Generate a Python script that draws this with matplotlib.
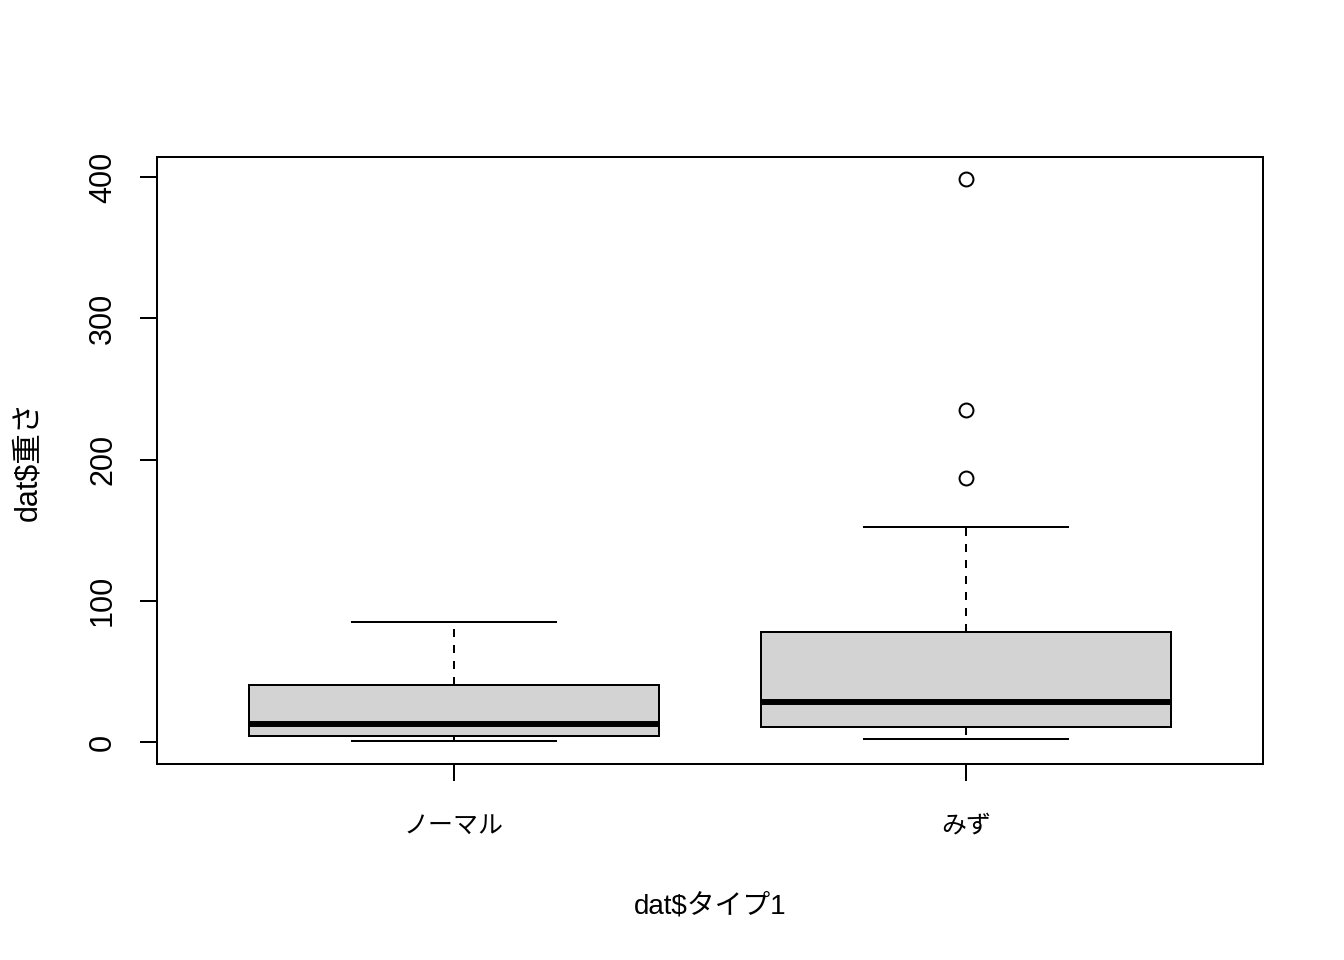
import matplotlib
matplotlib.use("Agg")
import matplotlib.pyplot as plt

plt.rcParams['font.family'] = ['Liberation Sans', 'Noto Sans CJK JP', 'DejaVu Sans']

# box statistics (weights)
types = ['ノーマル', 'みず']
whisker_low = [0.9, 1.9]
q1 = [4.5, 10.8]
medians = [13.0, 28.5]
q3 = [40.4, 77.9]
whisker_high = [85.2, 152.4]
outliers = [[], [187, 235, 398.6]]

y_ticks = [0, 100, 200, 300, 400]

stats = []
for i, name in enumerate(types):
    stats.append({
        'label': name,
        'whislo': whisker_low[i],
        'q1': q1[i],
        'med': medians[i],
        'q3': q3[i],
        'whishi': whisker_high[i],
        'fliers': outliers[i],
    })

lw = 1.44
fig = plt.figure(figsize=(13.44, 9.6), dpi=100)
ax = fig.add_axes([157 / 1344, 1 - 764 / 960, (1263 - 157) / 1344, (764 - 157) / 960])

ax.bxp(stats, positions=[1, 2], widths=0.8, capwidths=0.4, patch_artist=True,
       boxprops=dict(facecolor='#D3D3D3', edgecolor='black', linewidth=lw),
       medianprops=dict(color='black', linewidth=4.3, solid_capstyle='butt'),
       whiskerprops=dict(color='black', linewidth=lw, linestyle=(0, (4, 4))),
       capprops=dict(color='black', linewidth=lw),
       flierprops=dict(marker='o', markerfacecolor='none', markeredgecolor='black',
                       markersize=10, markeredgewidth=lw))

ax.set_xlim(0.42, 2.58)
ax.set_ylim(-15.6, 414.2)
ax.set_yticks(y_ticks)
ax.set_yticklabels([str(v) for v in y_ticks], rotation=90, va='center')
ax.set_xticks([1, 2])
ax.set_xticklabels(types)

ax.tick_params(axis='both', length=12, width=lw, labelsize=22, color='black')
ax.tick_params(axis='y', pad=16)
ax.tick_params(axis='x', pad=24, labelsize=18)
for s in ax.spines.values():
    s.set_linewidth(lw)

ax.set_xlabel('dat$タイプ1', fontsize=20, labelpad=40)
ax.set_ylabel('dat$重さ', fontsize=22, labelpad=32)

fig.savefig('out.png', dpi=100)
